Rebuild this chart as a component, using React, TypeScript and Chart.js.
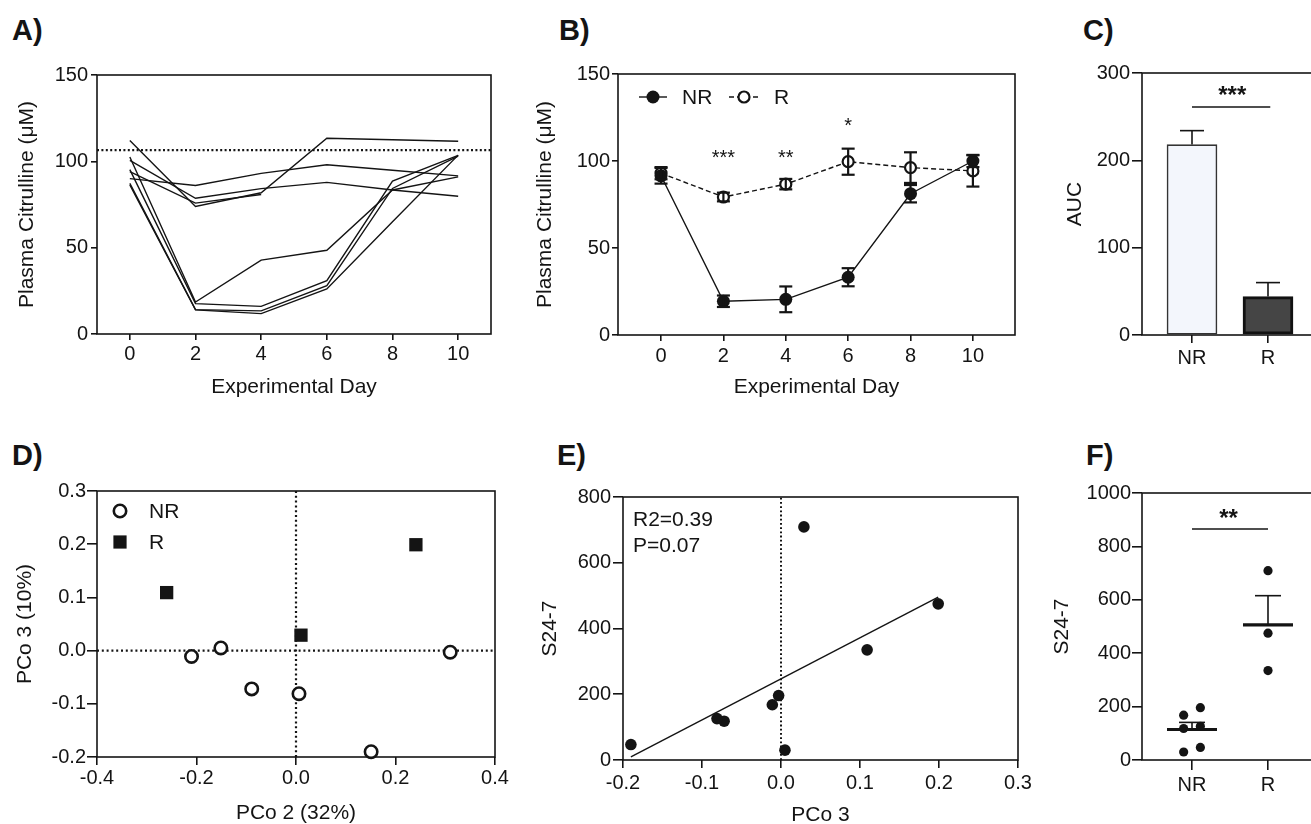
import React, { useEffect, useRef } from 'react';
import { Chart, registerables } from 'chart.js';

Chart.register(...registerables);

const FONT = '"Liberation Sans", Arial, Helvetica, sans-serif';
const INK = '#141414';
const TICK_SIZE = 20;
const TITLE_SIZE = 21;

// ---------------- data ----------------
const DAYS = [0, 2, 4, 6, 8, 10];
const DAY_TICKS = [0, 2, 4, 6, 8, 10];
const CIT_TICKS = [0, 50, 100, 150];

// Panel A: individual mice, plasma citrulline (uM)
const A_R1 = [112, 73.9, 81.8, 113.4, 112.5, 111.6];
const A_R2 = [90, 86, 93, 98, 94.8, 91.6];
const A_R3 = [100.6, 78.6, 84.2, 87.8, 83.4, 79.8];
const A_R4 = [94, 75.8, 80.8, null, null, null];
const A_NR1 = [102.5, 18.5, 42.8, 48.5, 83.4, 91];
const A_NR2 = [95.2, 17.6, 16, 30.9, 88.5, 103.4];
const A_NR3 = [87.2, 14.1, 13.4, 28, 84.3, 103];
const A_NR4 = [86.3, 14, 11.8, 26.1, 65, 103.6];
const A_THRESHOLD = 106.5;

// Panel B: group means +/- SEM
const B_NR_MEAN = [91.5, 19.4, 20.5, 33.2, 81.2, 100];
const B_NR_SEM = [4.5, 3.3, 7.4, 5.2, 5, 3.5];
const B_R_MEAN = [93, 79.3, 86.7, 99.6, 96.2, 94.3];
const B_R_SEM = [3.5, 2.5, 3, 7.5, 8.8, 9];
const B_STAR_TEXT = ['', '***', '**', '*', '', ''];
const B_STAR_Y = [0, 105, 105, 123, 0, 0];

// Panel C: AUC
const GROUPS = ['NR', 'R'];
const C_AUC_MEAN = [218, 44];
const C_AUC_SEM = [16, 16];
const C_TICKS = [0, 100, 200, 300];
const C_SIG_Y = 261;
const C_SIG_STAR_Y = 281;

// Panel D: PCoA
const D_NR_PCO2 = [-0.21, -0.151, -0.089, 0.006, 0.151, 0.31];
const D_NR_PCO3 = [-0.011, 0.005, -0.072, -0.081, -0.19, -0.003];
const D_R_PCO2 = [-0.26, 0.01, 0.241];
const D_R_PCO3 = [0.109, 0.029, 0.199];
const D_X_TICKS = [-0.4, -0.2, 0, 0.2, 0.4];
const D_Y_TICKS = [-0.2, -0.1, 0, 0.1, 0.2, 0.3];

// Panel E/F: S24-7 abundance per mouse (same order as D)
const S24_NR = [168, 30, 118, 126, 47, 196];
const S24_R = [335, 709, 475];
const E_X_TICKS = [-0.2, -0.1, 0, 0.1, 0.2, 0.3];
const E_Y_TICKS = [0, 200, 400, 600, 800];
const E_STATS = ['R2=0.39', 'P=0.07'];

const F_NR_JITTER = [-0.11, -0.11, -0.11, 0.11, 0.11, 0.11];
const F_TICKS = [0, 200, 400, 600, 800, 1000];
const F_SIG_Y = 865;
const F_SIG_STAR_Y = 928;

// ---------------- helpers ----------------
const mean = (a: number[]) => a.reduce((s, v) => s + v, 0) / a.length;
const sem = (a: number[]) => {
  const m = mean(a);
  const v = a.reduce((s, x) => s + (x - m) * (x - m), 0) / (a.length - 1);
  return Math.sqrt(v / a.length);
};

function linAxis(o: any) {
  return {
    type: 'linear',
    position: o.pos,
    min: o.min,
    max: o.max,
    offset: false,
    afterBuildTicks: (s: any) => {
      s.ticks = o.ticks.map((v: number) => ({ value: v }));
    },
    afterFit: (s: any) => {
      if (o.pos === 'left') s.width = o.size;
      else s.height = o.size;
    },
    grid: {
      display: true,
      drawOnChartArea: false,
      drawTicks: true,
      tickLength: o.tickLen,
      color: INK,
      lineWidth: 1.6,
      offset: false,
    },
    border: { display: false },
    ticks: {
      color: INK,
      font: { family: FONT, size: TICK_SIZE },
      padding: o.pad,
      maxRotation: 0,
      minRotation: 0,
      autoSkip: false,
      callback: (v: any) => (o.fmt ? o.fmt(v) : String(v)),
    },
    title: {
      display: !!o.title,
      text: o.title || '',
      color: INK,
      font: { family: FONT, size: TITLE_SIZE },
      padding: o.titlePad ?? 0,
    },
  };
}

const framePlugin = {
  id: 'frame',
  beforeDatasetsDraw(chart: any) {
    const { ctx, chartArea: a } = chart;
    ctx.save();
    ctx.strokeStyle = INK;
    ctx.lineWidth = 1.6;
    ctx.strokeRect(a.left, a.top, a.right - a.left, a.bottom - a.top);
    ctx.restore();
  },
};

const drawPlugin = (id: string, fn: (chart: any, ctx: CanvasRenderingContext2D) => void) => ({
  id,
  afterDatasetsDraw(chart: any) {
    const ctx = chart.ctx;
    ctx.save();
    fn(chart, ctx);
    ctx.restore();
  },
});

function stars(ctx: CanvasRenderingContext2D, text: string, x: number, y: number, size: number, bold: boolean) {
  ctx.fillStyle = INK;
  ctx.font = `${bold ? 'bold ' : ''}${size}px ${FONT}`;
  ctx.textAlign = 'center';
  ctx.textBaseline = 'alphabetic';
  ctx.fillText(text, x, y + 0.575 * size);
}

function seg(ctx: CanvasRenderingContext2D, x1: number, y1: number, x2: number, y2: number) {
  ctx.beginPath();
  ctx.moveTo(x1, y1);
  ctx.lineTo(x2, y2);
  ctx.stroke();
}

function baseOptions(p: any, scales: any, extra: any = {}) {
  return {
    responsive: false,
    maintainAspectRatio: false,
    animation: false,
    devicePixelRatio: 1,
    events: [],
    layout: {
      padding: {
        left: 0,
        top: p.area.top - p.box.y,
        right: p.box.x + p.box.w - p.area.right,
        bottom: 0,
      },
    },
    plugins: { legend: { display: false }, tooltip: { enabled: false } },
    scales,
    ...extra,
  };
}

const yW = (p: any) => p.area.left - p.box.x;
const xH = (p: any) => p.box.y + p.box.h - p.area.bottom;
const fix1 = (v: number) => v.toFixed(1);

// ---------------- panels ----------------
const PANEL_A: any = { box: { x: 0, y: 60, w: 500, h: 345 }, area: { left: 97, top: 72, right: 491, bottom: 334 } };
PANEL_A.config = () => {
  const p = PANEL_A;
  const lines = [A_R1, A_R2, A_R3, A_R4, A_NR1, A_NR2, A_NR3, A_NR4];
  return {
    type: 'line',
    data: {
      datasets: [
        ...lines.map((arr) => ({
          data: DAYS.map((d, i) => ({ x: d, y: arr[i] })),
          borderColor: INK,
          borderWidth: 1.4,
          pointRadius: 0,
          tension: 0,
          fill: false,
        })),
        {
          data: [{ x: -1, y: A_THRESHOLD }, { x: 11, y: A_THRESHOLD }],
          borderColor: INK,
          borderWidth: 2.2,
          borderDash: [2, 2.4],
          pointRadius: 0,
          fill: false,
        },
      ],
    },
    options: baseOptions(p, {
      x: linAxis({ pos: 'bottom', min: -1, max: 11, ticks: DAY_TICKS, size: xH(p), tickLen: 6, pad: 2, title: 'Experimental Day', titlePad: 5.4 }),
      y: linAxis({ pos: 'left', min: 0, max: 150, ticks: CIT_TICKS, size: yW(p), tickLen: 6, pad: 3, title: 'Plasma Citrulline (\u03bcM)', titlePad: 15 }),
    }),
    plugins: [framePlugin],
  };
};

const PANEL_B: any = { box: { x: 520, y: 60, w: 505, h: 345 }, area: { left: 618, top: 72, right: 1015, bottom: 335 } };
PANEL_B.config = () => {
  const p = PANEL_B;
  return {
    type: 'line',
    data: {
      datasets: [
        {
          data: DAYS.map((d, i) => ({ x: d, y: B_NR_MEAN[i] })),
          borderColor: INK,
          borderWidth: 1.4,
          pointRadius: 6.5,
          pointBackgroundColor: INK,
          pointBorderColor: INK,
          pointBorderWidth: 0,
          tension: 0,
          clip: false,
        },
        {
          data: DAYS.map((d, i) => ({ x: d, y: B_R_MEAN[i] })),
          borderColor: INK,
          borderWidth: 1.4,
          borderDash: [5, 3],
          pointRadius: 5.5,
          pointBackgroundColor: '#fff',
          pointBorderColor: INK,
          pointBorderWidth: 2.2,
          tension: 0,
          clip: false,
        },
      ],
    },
    options: baseOptions(p, {
      x: linAxis({ pos: 'bottom', min: -1.38, max: 11.35, ticks: DAY_TICKS, size: xH(p), tickLen: 6, pad: 3, title: 'Experimental Day', titlePad: 5.4 }),
      y: linAxis({ pos: 'left', min: 0, max: 150, ticks: CIT_TICKS, size: yW(p), tickLen: 6, pad: 2, title: 'Plasma Citrulline (\u03bcM)', titlePad: 12.4 }),
    }),
    plugins: [
      framePlugin,
      drawPlugin('bAnnot', (chart, ctx) => {
        const xs = chart.scales.x, ys = chart.scales.y, a = chart.chartArea;
        ctx.strokeStyle = INK;
        ctx.lineWidth = 2.2;
        const groups = [[B_NR_MEAN, B_NR_SEM], [B_R_MEAN, B_R_SEM]];
        groups.forEach(([m, s]) => {
          DAYS.forEach((d, i) => {
            const px = xs.getPixelForValue(d);
            const t = ys.getPixelForValue(m[i] + s[i]);
            const b = ys.getPixelForValue(m[i] - s[i]);
            seg(ctx, px, t, px, b);
            seg(ctx, px - 6.5, t, px + 6.5, t);
            seg(ctx, px - 6.5, b, px + 6.5, b);
          });
        });
        DAYS.forEach((d, i) => {
          if (B_STAR_TEXT[i]) stars(ctx, B_STAR_TEXT[i], xs.getPixelForValue(d), ys.getPixelForValue(B_STAR_Y[i]), 20, false);
        });
        // legend
        const ly = a.top + 23;
        ctx.lineWidth = 1.4;
        ctx.setLineDash([]);
        seg(ctx, a.left + 21, ly, a.left + 49, ly);
        ctx.fillStyle = INK;
        ctx.beginPath();
        ctx.arc(a.left + 35, ly, 6.5, 0, Math.PI * 2);
        ctx.fill();
        ctx.setLineDash([5, 3]);
        seg(ctx, a.left + 111, ly, a.left + 142, ly);
        ctx.setLineDash([]);
        ctx.fillStyle = '#fff';
        ctx.lineWidth = 2.2;
        ctx.beginPath();
        ctx.arc(a.left + 126, ly, 5.5, 0, Math.PI * 2);
        ctx.fill();
        ctx.stroke();
        ctx.fillStyle = INK;
        ctx.font = `21px ${FONT}`;
        ctx.textAlign = 'left';
        ctx.textBaseline = 'middle';
        ctx.fillText('NR', a.left + 64, ly + 1);
        ctx.fillText('R', a.left + 156, ly + 1);
      }),
    ],
  };
};

const PANEL_C: any = { box: { x: 1050, y: 59, w: 280, h: 321 }, area: { left: 1142, top: 71, right: 1318, bottom: 335 } };
PANEL_C.config = () => {
  const p = PANEL_C;
  return {
    type: 'bar',
    data: {
      datasets: [
        {
          data: GROUPS.map((g, i) => ({ x: i, y: C_AUC_MEAN[i] })),
          backgroundColor: ['#F3F6FC', '#454545'],
          borderColor: ['#333333', '#111111'],
          borderWidth: [1.6, 3],
          borderSkipped: false,
          barThickness: 50,
        },
      ],
    },
    options: baseOptions(p, {
      x: linAxis({ pos: 'bottom', min: -0.658, max: 1.658, ticks: [0, 1], size: xH(p), tickLen: 8, pad: 3, fmt: (v: number) => GROUPS[v] ?? '' }),
      y: linAxis({ pos: 'left', min: 0, max: 300, ticks: C_TICKS, size: yW(p), tickLen: 10, pad: 2, title: 'AUC', titlePad: 12.4 }),
    }),
    plugins: [
      framePlugin,
      drawPlugin('cAnnot', (chart, ctx) => {
        const xs = chart.scales.x, ys = chart.scales.y;
        ctx.strokeStyle = INK;
        ctx.lineWidth = 1.6;
        GROUPS.forEach((g, i) => {
          const px = xs.getPixelForValue(i);
          const t = ys.getPixelForValue(C_AUC_MEAN[i] + C_AUC_SEM[i]);
          const b = ys.getPixelForValue(C_AUC_MEAN[i]);
          seg(ctx, px, t, px, b);
          seg(ctx, px - 12, t, px + 12, t);
        });
        const sy = ys.getPixelForValue(C_SIG_Y);
        seg(ctx, xs.getPixelForValue(0), sy, xs.getPixelForValue(1.03), sy);
        stars(ctx, '***', xs.getPixelForValue(0.53), ys.getPixelForValue(C_SIG_STAR_Y), 24, true);
      }),
    ],
  };
};

const PANEL_D: any = { box: { x: 0, y: 478, w: 515, h: 352 }, area: { left: 97, top: 490, right: 495, bottom: 757 } };
PANEL_D.config = () => {
  const p = PANEL_D;
  return {
    type: 'scatter',
    data: {
      datasets: [
        {
          data: [{ x: 0, y: -0.2 }, { x: 0, y: 0.3 }],
          showLine: true, borderColor: INK, borderWidth: 2.2, borderDash: [2, 2.8], pointRadius: 0, order: 5,
        },
        {
          data: [{ x: -0.4, y: 0 }, { x: 0.4, y: 0 }],
          showLine: true, borderColor: INK, borderWidth: 2.2, borderDash: [2, 2.8], pointRadius: 0, order: 5,
        },
        {
          data: D_NR_PCO2.map((v, i) => ({ x: v, y: D_NR_PCO3[i] })),
          pointStyle: 'circle', pointRadius: 6.2, pointBorderWidth: 2.6, pointBackgroundColor: '#fff', pointBorderColor: INK, clip: false, order: 1,
        },
        {
          data: D_R_PCO2.map((v, i) => ({ x: v, y: D_R_PCO3[i] })),
          pointStyle: 'rect', pointRadius: 9.4, pointBorderWidth: 0, pointBackgroundColor: INK, pointBorderColor: INK, clip: false, order: 1,
        },
      ],
    },
    options: baseOptions(p, {
      x: linAxis({ pos: 'bottom', min: -0.4, max: 0.4, ticks: D_X_TICKS, size: xH(p), tickLen: 8, pad: 1, title: 'PCo 2 (32%)', titlePad: 4.4, fmt: fix1 }),
      y: linAxis({ pos: 'left', min: -0.2, max: 0.3, ticks: D_Y_TICKS, size: yW(p), tickLen: 10, pad: 1, title: 'PCo 3 (10%)', titlePad: 12.4, fmt: fix1 }),
    }),
    plugins: [
      framePlugin,
      drawPlugin('dLegend', (chart, ctx) => {
        const a = chart.chartArea;
        ctx.strokeStyle = INK;
        ctx.fillStyle = '#fff';
        ctx.lineWidth = 2.6;
        ctx.beginPath();
        ctx.arc(a.left + 23, a.top + 20, 6.2, 0, Math.PI * 2);
        ctx.fill();
        ctx.stroke();
        ctx.fillStyle = INK;
        ctx.fillRect(a.left + 23 - 6.6, a.top + 51 - 6.6, 13.2, 13.2);
        ctx.font = `21px ${FONT}`;
        ctx.textAlign = 'left';
        ctx.textBaseline = 'middle';
        ctx.fillText('NR', a.left + 52, a.top + 21);
        ctx.fillText('R', a.left + 52, a.top + 52);
      }),
    ],
  };
};

const E_X = [...D_NR_PCO3, ...D_R_PCO3];
const E_Y = [...S24_NR, ...S24_R];

const PANEL_E: any = { box: { x: 525, y: 483, w: 511, h: 347 }, area: { left: 623, top: 495, right: 1018, bottom: 760 } };
PANEL_E.config = () => {
  const p = PANEL_E;
  const mx = mean(E_X), my = mean(E_Y);
  let sxy = 0, sxx = 0;
  E_X.forEach((x, i) => { sxy += (x - mx) * (E_Y[i] - my); sxx += (x - mx) * (x - mx); });
  const slope = sxy / sxx;
  const icpt = my - slope * mx;
  const xmin = Math.min(...E_X), xmax = Math.max(...E_X);
  return {
    type: 'scatter',
    data: {
      datasets: [
        {
          data: [{ x: 0, y: 0 }, { x: 0, y: 800 }],
          showLine: true, borderColor: INK, borderWidth: 2, borderDash: [1.8, 2.4], pointRadius: 0, order: 5,
        },
        {
          data: [{ x: xmin, y: icpt + slope * xmin }, { x: xmax, y: icpt + slope * xmax }],
          showLine: true, borderColor: INK, borderWidth: 1.4, pointRadius: 0, order: 4,
        },
        {
          data: E_X.map((x, i) => ({ x, y: E_Y[i] })),
          pointRadius: 5.8, pointBorderWidth: 0, pointBackgroundColor: INK, clip: false, order: 1,
        },
      ],
    },
    options: baseOptions(p, {
      x: linAxis({ pos: 'bottom', min: -0.2, max: 0.3, ticks: E_X_TICKS, size: xH(p), tickLen: 8, pad: 3, title: 'PCo 3', titlePad: 2.4, fmt: fix1 }),
      y: linAxis({ pos: 'left', min: 0, max: 800, ticks: E_Y_TICKS, size: yW(p), tickLen: 10, pad: 2, title: 'S24-7', titlePad: 12.4 }),
    }),
    plugins: [
      framePlugin,
      drawPlugin('eText', (chart, ctx) => {
        const a = chart.chartArea;
        ctx.fillStyle = INK;
        ctx.font = `21px ${FONT}`;
        ctx.textAlign = 'left';
        ctx.textBaseline = 'middle';
        E_STATS.forEach((t, i) => ctx.fillText(t, a.left + 10, a.top + 23 + i * 26));
      }),
    ],
  };
};

const PANEL_F: any = { box: { x: 1037, y: 480, w: 293, h: 325 }, area: { left: 1142, top: 492, right: 1318, bottom: 760 } };
PANEL_F.config = () => {
  const p = PANEL_F;
  return {
    type: 'scatter',
    data: {
      datasets: [
        {
          data: S24_NR.map((v, i) => ({ x: 0 + F_NR_JITTER[i], y: v })),
          pointRadius: 4.6, pointBorderWidth: 0, pointBackgroundColor: INK, clip: false,
        },
        {
          data: S24_R.map((v) => ({ x: 1, y: v })),
          pointRadius: 4.6, pointBorderWidth: 0, pointBackgroundColor: INK, clip: false,
        },
      ],
    },
    options: baseOptions(p, {
      x: linAxis({ pos: 'bottom', min: -0.658, max: 1.658, ticks: [0, 1], size: xH(p), tickLen: 10, pad: 3, fmt: (v: number) => GROUPS[v] ?? '' }),
      y: linAxis({ pos: 'left', min: 0, max: 1000, ticks: F_TICKS, size: yW(p), tickLen: 10, pad: 1, title: 'S24-7', titlePad: 12.4 }),
    }),
    plugins: [
      framePlugin,
      drawPlugin('fAnnot', (chart, ctx) => {
        const xs = chart.scales.x, ys = chart.scales.y;
        ctx.strokeStyle = INK;
        [S24_NR, S24_R].forEach((vals, i) => {
          const px = xs.getPixelForValue(i);
          const m = ys.getPixelForValue(mean(vals));
          const t = ys.getPixelForValue(mean(vals) + sem(vals));
          ctx.lineWidth = 1.6;
          seg(ctx, px, m, px, t);
          seg(ctx, px - 13, t, px + 13, t);
          ctx.lineWidth = 3.2;
          seg(ctx, px - 25, m, px + 25, m);
        });
        ctx.lineWidth = 1.6;
        const sy = ys.getPixelForValue(F_SIG_Y);
        seg(ctx, xs.getPixelForValue(0), sy, xs.getPixelForValue(1), sy);
        stars(ctx, '**', xs.getPixelForValue(0.48), ys.getPixelForValue(F_SIG_STAR_Y), 24, true);
      }),
    ],
  };
};

const PANELS = [PANEL_A, PANEL_B, PANEL_C, PANEL_D, PANEL_E, PANEL_F];

const PANEL_LABELS = [
  { t: 'A)', x: 12, y: 15.5 },
  { t: 'B)', x: 559, y: 15.5 },
  { t: 'C)', x: 1083, y: 15.5 },
  { t: 'D)', x: 12, y: 440.5 },
  { t: 'E)', x: 557, y: 440.5 },
  { t: 'F)', x: 1086, y: 440.5 },
];

export default function App() {
  const refs = useRef<(HTMLCanvasElement | null)[]>([]);
  useEffect(() => {
    document.body.style.margin = '0';
    const charts = PANELS.map((p, i) => new Chart(refs.current[i] as HTMLCanvasElement, p.config()));
    return () => charts.forEach((c) => c.destroy());
  }, []);
  return (
    <div style={{ position: 'absolute', left: 0, top: 0, width: 1311, height: 824, overflow: 'hidden', background: '#fff' }}>
      {PANEL_LABELS.map((l) => (
        <div
          key={l.t}
          style={{ position: 'absolute', left: l.x, top: l.y, fontFamily: FONT, fontWeight: 'bold', fontSize: 29, lineHeight: '29px', color: INK, whiteSpace: 'nowrap' }}
        >
          {l.t}
        </div>
      ))}
      {PANELS.map((p, i) => (
        <canvas
          key={i}
          ref={(el) => {
            refs.current[i] = el;
          }}
          width={p.box.w}
          height={p.box.h}
          style={{ position: 'absolute', left: p.box.x, top: p.box.y, width: p.box.w, height: p.box.h }}
        />
      ))}
    </div>
  );
}
